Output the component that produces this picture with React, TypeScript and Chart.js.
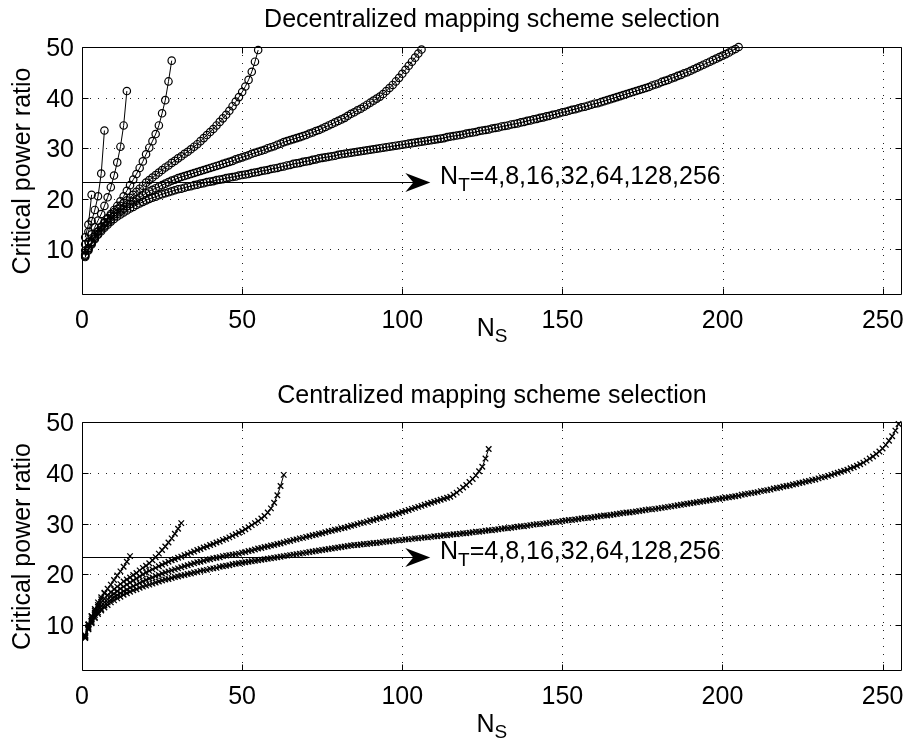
import React, { useEffect, useRef } from "react";
import { Chart, registerables } from "chart.js";

Chart.register(...registerables);

// ---------------- data ----------------
const NT = [4, 8, 16, 32, 64, 128, 256];
const X_TICKS = [0, 50, 100, 150, 200, 250];
const Y_TICKS = [10, 20, 30, 40, 50];
const X_MIN = 0;
const X_MAX = 256;
const Y_MIN = 1;
const Y_MAX = 50;

const TITLE_DEC = "Decentralized mapping scheme selection";
const TITLE_CEN = "Centralized mapping scheme selection";
const Y_LABEL = "Critical power ratio";
const X_LABEL_MAIN = "N";
const X_LABEL_SUB = "S";
const ANNOT_MAIN = "N";
const ANNOT_SUB = "T";
const ANNOT_REST = "=4,8,16,32,64,128,256";

// annotation arrow (data coordinates)
const ARROW_Y = 23.4;
const ARROW_X0 = 0;
const ARROW_TIP = 108.75;
const ANNOT_X = 111.8;

// Decentralized: critical power ratio at N_S = 1, 2, 3, ...
const DEC_4 = [12.4, 14.9, 20.8];
const DEC_8 = [11.0, 13.5, 15.6, 17.8, 20.5, 25.0, 33.5];
const DEC_16 = [9.8, 11.5, 13.0, 14.4, 15.7, 17.0, 18.6, 20.3, 22.3, 24.6, 27.2, 30.3, 34.5, 41.3];
const DEC_32 = [
  9.0, 10.3, 11.5, 12.6, 13.6, 14.5, 15.4, 16.2, 17.0, 17.8,
  18.6, 19.5, 20.5, 21.6, 22.7, 23.8, 24.9, 26.1, 27.4, 28.8,
  30.1, 31.4, 32.8, 34.5, 36.9, 39.5, 43.2, 47.3,
];
const DEC_64 = [
  8.8, 10.2, 11.4, 12.5, 13.5, 14.4, 15.2, 16.0, 16.7, 17.4,
  18.0, 18.6, 19.2, 19.7, 20.2, 20.8, 21.4, 22.0, 22.6, 23.2,
  23.7, 24.2, 24.7, 25.2, 25.7, 26.2, 26.6, 27.1, 27.5, 28.0,
  28.4, 28.9, 29.3, 29.8, 30.3, 30.8, 31.4, 32.0, 32.6, 33.2,
  33.8, 34.5, 35.2, 35.9, 36.6, 37.4, 38.3, 39.2, 40.1, 41.1,
  42.2, 43.5, 45.1, 47.1, 49.4,
];
const DEC_128 = [
  8.7, 10.0, 11.2, 12.2, 13.1, 13.9, 14.6, 15.3, 15.9, 16.5,
  17.0, 17.5, 18.0, 18.5, 19.0, 19.5, 19.9, 20.3, 20.7, 21.1,
  21.5, 21.8, 22.1, 22.4, 22.7, 23.0, 23.3, 23.6, 23.8, 24.1,
  24.3, 24.5, 24.7, 24.9, 25.1, 25.3, 25.5, 25.7, 25.9, 26.1,
  26.3, 26.5, 26.7, 26.9, 27.1, 27.3, 27.5, 27.8, 28.0, 28.2,
  28.4, 28.6, 28.9, 29.1, 29.3, 29.5, 29.7, 30.0, 30.2, 30.4,
  30.7, 30.9, 31.2, 31.4, 31.6, 31.8, 32.0, 32.2, 32.4, 32.6,
  32.9, 33.1, 33.4, 33.6, 33.9, 34.2, 34.5, 34.8, 35.1, 35.4,
  35.7, 36.0, 36.4, 36.8, 37.1, 37.5, 37.8, 38.2, 38.6, 39.0,
  39.4, 39.8, 40.2, 40.7, 41.3, 41.9, 42.5, 43.2, 43.9, 44.7,
  45.5, 46.3, 47.1, 47.9, 48.7, 49.5,
];
const DEC_256 = [
  8.5, 9.8, 11.0, 12.0, 12.9, 13.6, 14.3, 14.9, 15.5, 16.0,
  16.5, 16.9, 17.3, 17.7, 18.1, 18.4, 18.8, 19.1, 19.4, 19.7,
  20.0, 20.2, 20.4, 20.7, 20.9, 21.1, 21.3, 21.5, 21.7, 21.9,
  22.0, 22.2, 22.4, 22.5, 22.7, 22.8, 23.0, 23.1, 23.3, 23.4,
  23.5, 23.7, 23.8, 23.9, 24.1, 24.2, 24.3, 24.4, 24.6, 24.7,
  24.8, 24.9, 25.1, 25.2, 25.3, 25.5, 25.6, 25.7, 25.9, 26.0,
  26.1, 26.3, 26.4, 26.6, 26.7, 26.9, 27.0, 27.1, 27.3, 27.4,
  27.5, 27.7, 27.8, 28.0, 28.1, 28.2, 28.3, 28.4, 28.5, 28.7,
  28.8, 28.9, 29.0, 29.1, 29.2, 29.3, 29.4, 29.5, 29.6, 29.7,
  29.8, 29.9, 30.0, 30.1, 30.2, 30.3, 30.4, 30.5, 30.6, 30.7,
  30.8, 30.9, 31.0, 31.1, 31.2, 31.3, 31.4, 31.5, 31.6, 31.7,
  31.8, 31.9, 32.0, 32.2, 32.3, 32.4, 32.5, 32.6, 32.7, 32.9,
  33.0, 33.1, 33.2, 33.4, 33.5, 33.6, 33.7, 33.9, 34.0, 34.1,
  34.3, 34.4, 34.5, 34.7, 34.8, 34.9, 35.1, 35.2, 35.4, 35.5,
  35.7, 35.8, 36.0, 36.1, 36.3, 36.4, 36.6, 36.7, 36.9, 37.1,
  37.2, 37.4, 37.6, 37.7, 37.9, 38.1, 38.2, 38.4, 38.6, 38.8,
  38.9, 39.1, 39.3, 39.5, 39.7, 39.9, 40.1, 40.3, 40.5, 40.7,
  40.9, 41.1, 41.3, 41.5, 41.7, 41.9, 42.1, 42.4, 42.6, 42.8,
  43.1, 43.3, 43.5, 43.8, 44.0, 44.3, 44.5, 44.8, 45.0, 45.3,
  45.6, 45.9, 46.2, 46.5, 46.8, 47.1, 47.4, 47.7, 48.0, 48.3,
  48.6, 48.9, 49.3, 49.6, 50.0,
];

// Centralized: critical power ratio at N_S = 1, 2, 3, ...
const CEN_4 = [7.9, 10.1, 11.8];
const CEN_8 = [8.0, 10.1, 11.6, 12.9, 14.0, 15.1, 16.3];
const CEN_16 = [8.0, 10.2, 11.8, 13.2, 14.5, 15.5, 16.4, 17.2, 18.0, 18.9, 19.8, 20.6, 21.5, 22.5, 23.6];
const CEN_32 = [
  7.8, 9.7, 11.2, 12.5, 13.6, 14.5, 15.2, 15.9, 16.5, 17.1,
  17.6, 18.1, 18.6, 19.0, 19.4, 19.9, 20.3, 20.8, 21.3, 21.7,
  22.2, 22.8, 23.4, 24.1, 24.8, 25.5, 26.3, 27.1, 28.0, 29.0,
  30.1,
];
const CEN_64 = [
  7.7, 9.5, 10.9, 12.0, 13.0, 13.8, 14.5, 15.1, 15.7, 16.2,
  16.7, 17.2, 17.6, 18.0, 18.4, 18.8, 19.2, 19.6, 20.0, 20.4,
  20.7, 21.0, 21.3, 21.6, 21.9, 22.2, 22.5, 22.8, 23.0, 23.3,
  23.5, 23.8, 24.0, 24.3, 24.5, 24.8, 25.0, 25.3, 25.5, 25.8,
  26.0, 26.3, 26.5, 26.8, 27.0, 27.3, 27.6, 27.9, 28.2, 28.5,
  28.9, 29.3, 29.7, 30.1, 30.5, 31.0, 31.5, 32.2, 33.0, 34.1,
  35.6, 37.4, 39.6,
];
const CEN_128 = [
  7.6, 9.3, 10.6, 11.6, 12.5, 13.2, 13.9, 14.5, 15.0, 15.5,
  15.9, 16.3, 16.7, 17.0, 17.4, 17.7, 18.0, 18.3, 18.6, 18.9,
  19.2, 19.4, 19.7, 19.9, 20.2, 20.4, 20.6, 20.8, 21.0, 21.2,
  21.4, 21.6, 21.8, 22.0, 22.2, 22.4, 22.5, 22.7, 22.9, 23.0,
  23.2, 23.3, 23.4, 23.6, 23.7, 23.8, 23.9, 24.0, 24.1, 24.3,
  24.4, 24.6, 24.7, 24.9, 25.1, 25.2, 25.4, 25.5, 25.7, 25.8,
  26.0, 26.1, 26.3, 26.5, 26.6, 26.8, 26.9, 27.1, 27.2, 27.4,
  27.5, 27.7, 27.8, 28.0, 28.1, 28.3, 28.5, 28.6, 28.8, 28.9,
  29.1, 29.2, 29.4, 29.6, 29.7, 29.9, 30.1, 30.2, 30.4, 30.6,
  30.7, 30.9, 31.1, 31.2, 31.4, 31.6, 31.7, 31.9, 32.1, 32.3,
  32.5, 32.7, 32.9, 33.1, 33.3, 33.5, 33.7, 33.9, 34.1, 34.3,
  34.5, 34.7, 34.9, 35.1, 35.3, 35.7, 36.1, 36.6, 37.1, 37.6,
  38.2, 38.8, 39.5, 40.3, 41.2, 42.8, 44.7,
];
const CEN_256 = [
  7.5, 9.2, 10.4, 11.4, 12.2, 12.9, 13.5, 14.0, 14.5, 14.9,
  15.3, 15.6, 16.0, 16.3, 16.6, 16.9, 17.1, 17.4, 17.6, 17.8,
  18.0, 18.2, 18.4, 18.6, 18.8, 19.0, 19.1, 19.3, 19.5, 19.6,
  19.8, 19.9, 20.1, 20.2, 20.4, 20.5, 20.7, 20.8, 20.9, 21.1,
  21.2, 21.3, 21.5, 21.6, 21.7, 21.8, 22.0, 22.1, 22.2, 22.3,
  22.4, 22.5, 22.6, 22.7, 22.8, 22.9, 23.0, 23.1, 23.2, 23.3,
  23.4, 23.5, 23.6, 23.7, 23.8, 23.9, 24.0, 24.1, 24.2, 24.3,
  24.4, 24.5, 24.6, 24.7, 24.8, 24.9, 25.0, 25.1, 25.2, 25.3,
  25.4, 25.5, 25.6, 25.7, 25.8, 25.8, 25.9, 26.0, 26.0, 26.1,
  26.2, 26.2, 26.3, 26.4, 26.5, 26.5, 26.6, 26.7, 26.7, 26.8,
  26.9, 26.9, 27.0, 27.1, 27.1, 27.2, 27.3, 27.3, 27.4, 27.5,
  27.5, 27.6, 27.7, 27.7, 27.8, 27.9, 27.9, 28.0, 28.1, 28.1,
  28.2, 28.3, 28.4, 28.4, 28.5, 28.6, 28.7, 28.7, 28.8, 28.9,
  29.0, 29.1, 29.1, 29.2, 29.3, 29.4, 29.5, 29.5, 29.6, 29.7,
  29.8, 29.9, 29.9, 30.0, 30.1, 30.2, 30.3, 30.3, 30.4, 30.5,
  30.6, 30.7, 30.7, 30.8, 30.9, 31.0, 31.1, 31.1, 31.2, 31.3,
  31.4, 31.5, 31.6, 31.6, 31.7, 31.8, 31.9, 32.0, 32.1, 32.2,
  32.2, 32.3, 32.4, 32.5, 32.6, 32.7, 32.8, 32.8, 32.9, 33.0,
  33.1, 33.2, 33.3, 33.4, 33.5, 33.6, 33.7, 33.8, 33.9, 34.0,
  34.1, 34.2, 34.3, 34.4, 34.5, 34.6, 34.7, 34.8, 34.9, 35.0,
  35.1, 35.2, 35.3, 35.4, 35.5, 35.7, 35.8, 35.9, 36.0, 36.1,
  36.2, 36.4, 36.5, 36.6, 36.7, 36.9, 37.0, 37.1, 37.3, 37.4,
  37.5, 37.7, 37.8, 38.0, 38.1, 38.3, 38.4, 38.6, 38.7, 38.9,
  39.1, 39.2, 39.4, 39.6, 39.8, 40.0, 40.2, 40.4, 40.6, 40.9,
  41.1, 41.4, 41.7, 42.0, 42.4, 42.8, 43.2, 43.7, 44.2, 44.8,
  45.5, 46.3, 47.2, 48.3, 49.6,
];

const DEC_SERIES = [DEC_4, DEC_8, DEC_16, DEC_32, DEC_64, DEC_128, DEC_256];
const CEN_SERIES = [CEN_4, CEN_8, CEN_16, CEN_32, CEN_64, CEN_128, CEN_256];

// ---------------- styling ----------------
const FONT_FAMILY = "'Liberation Sans', Arial, Helvetica, sans-serif";
const FS = 25;
const FS_SUB = 19;
const TICK_LEN = 6;

function decorPlugin(title: string, titleOff: number, xLabelOff: number) {
  return {
    id: "matlabDecor",
    beforeDatasetsDraw(chart: any) {
      const { ctx, chartArea: a, scales } = chart;
      const xs = scales.x;
      const ys = scales.y;
      ctx.save();
      ctx.strokeStyle = "#222";
      ctx.lineWidth = 1;
      ctx.setLineDash([1, 7]);
      for (const v of X_TICKS) {
        if (v <= X_MIN || v >= X_MAX) continue;
        const px = Math.round(xs.getPixelForValue(v)) + 0.5;
        ctx.beginPath();
        ctx.moveTo(px, a.top);
        ctx.lineTo(px, a.bottom);
        ctx.stroke();
      }
      for (const v of Y_TICKS) {
        if (v <= Y_MIN || v >= Y_MAX) continue;
        const py = Math.round(ys.getPixelForValue(v)) + 0.5;
        ctx.beginPath();
        ctx.moveTo(a.left, py);
        ctx.lineTo(a.right, py);
        ctx.stroke();
      }
      ctx.restore();
    },
    afterDraw(chart: any) {
      const { ctx, chartArea: a, scales } = chart;
      const xs = scales.x;
      const ys = scales.y;
      ctx.save();
      ctx.setLineDash([]);
      ctx.strokeStyle = "#000";
      ctx.fillStyle = "#000";
      ctx.lineWidth = 1;
      const L = Math.round(a.left) + 0.5;
      const R = Math.round(a.right) - 0.5;
      const T = Math.round(a.top) + 0.5;
      const B = Math.round(a.bottom) - 0.5;
      // box
      ctx.beginPath();
      ctx.rect(L, T, R - L, B - T);
      ctx.stroke();
      // inward ticks
      ctx.beginPath();
      for (const v of X_TICKS) {
        const px = Math.round(xs.getPixelForValue(v)) + 0.5;
        ctx.moveTo(px, B);
        ctx.lineTo(px, B - TICK_LEN);
        ctx.moveTo(px, T);
        ctx.lineTo(px, T + TICK_LEN);
      }
      for (const v of Y_TICKS) {
        const py = Math.round(ys.getPixelForValue(v)) + 0.5;
        ctx.moveTo(L, py);
        ctx.lineTo(L + TICK_LEN, py);
        ctx.moveTo(R, py);
        ctx.lineTo(R - TICK_LEN, py);
      }
      ctx.stroke();

      // tick labels
      ctx.font = `${FS}px ${FONT_FAMILY}`;
      ctx.textBaseline = "alphabetic";
      ctx.textAlign = "right";
      for (const v of Y_TICKS) {
        const py = ys.getPixelForValue(v);
        ctx.fillText(String(v), a.left - 8, py + 9);
      }
      ctx.textAlign = "center";
      for (const v of X_TICKS) {
        const px = xs.getPixelForValue(v);
        ctx.fillText(String(v), px, a.bottom + 32.5);
      }

      // title
      const cx = (a.left + a.right) / 2;
      ctx.fillText(title, cx, a.top - titleOff);

      // x label N_S
      ctx.textAlign = "left";
      ctx.font = `${FS}px ${FONT_FAMILY}`;
      const wN = ctx.measureText(X_LABEL_MAIN).width;
      ctx.font = `${FS_SUB}px ${FONT_FAMILY}`;
      const wS = ctx.measureText(X_LABEL_SUB).width;
      const sx = cx - (wN + wS) / 2;
      ctx.font = `${FS}px ${FONT_FAMILY}`;
      ctx.fillText(X_LABEL_MAIN, sx, a.bottom + xLabelOff);
      ctx.font = `${FS_SUB}px ${FONT_FAMILY}`;
      ctx.fillText(X_LABEL_SUB, sx + wN, a.bottom + xLabelOff + 6);

      // y label
      ctx.save();
      ctx.font = `${FS}px ${FONT_FAMILY}`;
      ctx.translate(30, (a.top + a.bottom) / 2);
      ctx.rotate(-Math.PI / 2);
      ctx.textAlign = "center";
      ctx.fillText(Y_LABEL, 0, 0);
      ctx.restore();

      // arrow
      const ay = Math.round(ys.getPixelForValue(ARROW_Y)) + 0.5;
      const x0 = xs.getPixelForValue(ARROW_X0);
      const tip = xs.getPixelForValue(ARROW_TIP);
      ctx.beginPath();
      ctx.moveTo(x0, ay);
      ctx.lineTo(tip - 14, ay);
      ctx.stroke();
      ctx.beginPath();
      ctx.moveTo(tip, ay);
      ctx.lineTo(tip - 25, ay - 9.5);
      ctx.lineTo(tip - 17, ay);
      ctx.lineTo(tip - 25, ay + 9.5);
      ctx.closePath();
      ctx.fill();

      // annotation text
      const tx = xs.getPixelForValue(ANNOT_X);
      const tb = ay + 1;
      ctx.textAlign = "left";
      ctx.font = `${FS}px ${FONT_FAMILY}`;
      ctx.fillText(ANNOT_MAIN, tx, tb);
      const wAN = ctx.measureText(ANNOT_MAIN).width;
      ctx.font = `${FS_SUB}px ${FONT_FAMILY}`;
      ctx.fillText(ANNOT_SUB, tx + wAN, tb + 7);
      const wAT = ctx.measureText(ANNOT_SUB).width;
      ctx.font = `${FS}px ${FONT_FAMILY}`;
      ctx.fillText(ANNOT_REST, tx + wAN + wAT, tb);

      ctx.restore();
    },
  };
}

function makeConfig(
  series: number[][],
  marker: string,
  radius: number,
  markerWidth: number,
  title: string,
  titleOff: number,
  xAxisH: number,
  xLabelOff: number
): any {
  return {
    type: "scatter",
    data: {
      datasets: series.map((s, i) => ({
        label: "NT=" + NT[i],
        data: s.map((v, k) => ({ x: k + 1, y: v })),
        showLine: true,
        borderColor: "#000",
        borderWidth: 1,
        backgroundColor: "rgba(0,0,0,0)",
        pointStyle: marker,
        pointRadius: radius,
        pointHoverRadius: radius,
        pointBorderColor: "#000",
        pointBorderWidth: markerWidth,
        pointBackgroundColor: "rgba(0,0,0,0)",
        tension: 0,
        clip: false,
      })),
    },
    options: {
      animation: false,
      responsive: false,
      maintainAspectRatio: false,
      devicePixelRatio: 1,
      events: [],
      layout: { padding: { top: 47, right: 5, left: 0, bottom: 0 } },
      plugins: {
        legend: { display: false },
        title: { display: false },
        tooltip: { enabled: false },
      },
      scales: {
        x: {
          type: "linear",
          min: X_MIN,
          max: X_MAX,
          afterBuildTicks: (s: any) => {
            s.ticks = X_TICKS.map((v) => ({ value: v }));
          },
          afterFit: (s: any) => {
            s.height = xAxisH;
          },
          ticks: { display: false },
          grid: { display: false },
          border: { display: false },
        },
        y: {
          type: "linear",
          min: Y_MIN,
          max: Y_MAX,
          afterBuildTicks: (s: any) => {
            s.ticks = Y_TICKS.map((v) => ({ value: v }));
          },
          afterFit: (s: any) => {
            s.width = 82;
          },
          ticks: { display: false },
          grid: { display: false },
          border: { display: false },
        },
      },
    },
    plugins: [decorPlugin(title, titleOff, xLabelOff)],
  };
}

export default function App() {
  const topRef = useRef<HTMLCanvasElement>(null);
  const botRef = useRef<HTMLCanvasElement>(null);

  useEffect(() => {
    const c1 = new Chart(
      topRef.current as HTMLCanvasElement,
      makeConfig(DEC_SERIES, "circle", 3.7, 1.2, TITLE_DEC, 20.3, 76, 41)
    );
    const c2 = new Chart(
      botRef.current as HTMLCanvasElement,
      makeConfig(CEN_SERIES, "crossRot", 3.9, 1.3, TITLE_CEN, 18.7, 71, 61)
    );
    return () => {
      c1.destroy();
      c2.destroy();
    };
  }, []);

  return (
    <div
      style={{
        position: "absolute",
        left: 0,
        top: 0,
        width: 907,
        height: 742,
        background: "#fff",
        overflow: "hidden",
      }}
    >
      <canvas
        ref={topRef}
        width={907}
        height={371}
        style={{ position: "absolute", left: 0, top: 0, width: 907, height: 371 }}
      />
      <canvas
        ref={botRef}
        width={907}
        height={367}
        style={{ position: "absolute", left: 0, top: 375, width: 907, height: 367 }}
      />
    </div>
  );
}
